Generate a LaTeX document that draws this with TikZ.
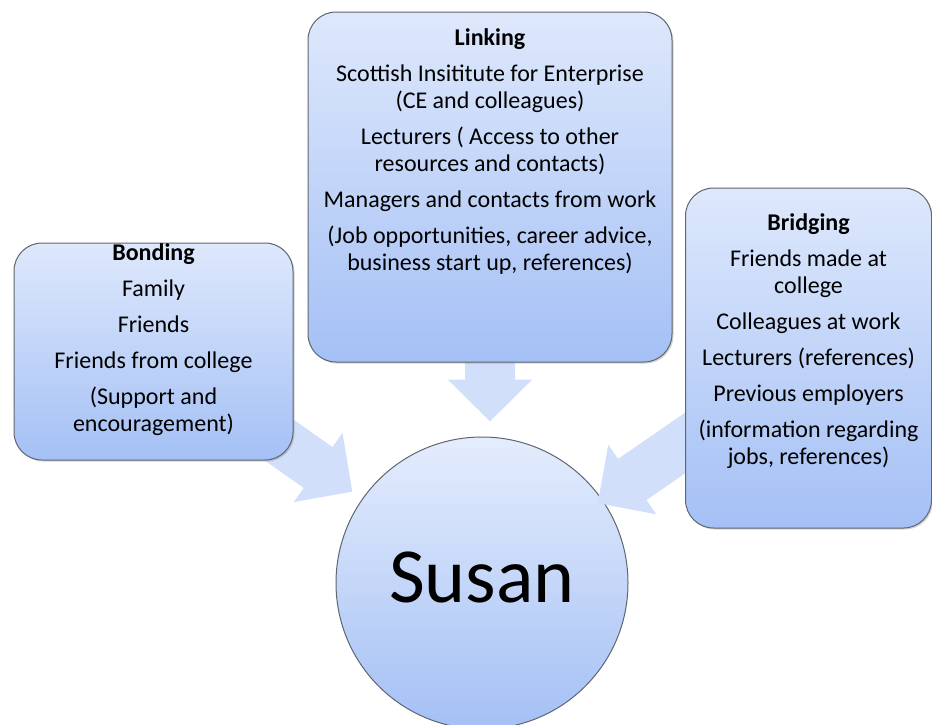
\documentclass[tikz,border=0pt]{standalone}
\usepackage{fontspec}
\setmainfont{Carlito}
\usetikzlibrary{arrows.meta,shadows,positioning}
\pgfdeclarelayer{back}
\pgfdeclarelayer{mid}
\pgfsetlayers{back,mid,main}
\definecolor{boxtop}{HTML}{DEE8FC}
\definecolor{boxbot}{HTML}{A4C0F5}
\definecolor{flowcol}{HTML}{D2DFFA}
\definecolor{edgecol}{HTML}{5F6670}

\begin{document}
\begin{tikzpicture}[x=1pt,y=-1pt]

\tikzset{group/.style = {draw=edgecol, line width=1pt, rounded corners=28pt, top color=boxtop, bottom color=boxbot, drop shadow={opacity=0.35,shadow xshift=1.5pt,shadow yshift=-1.5pt}, inner sep=0pt}}
\tikzset{items/.style = {align=center, inner sep=0pt, font=\fontsize{24}{27}\selectfont}}
\tikzset{flow/.style = {draw=flowcol, line width=50pt, -{Triangle[width=82pt,length=42pt]}}}

\useasboundingbox (0,0) rectangle (932,724);

% person
\begin{pgfonlayer}{back}
\node[circle, draw=edgecol, line width=1pt, top color=boxtop!80!white, bottom color=boxbot, minimum size=292pt, inner sep=0pt, text depth=12pt, font=\fontsize{78}{78}\selectfont] (Susan) at (482,583) {Susan};
\end{pgfonlayer}

% groups
\node[group, minimum width=279pt, minimum height=217pt] (Bonding) at (153.5,351.5) {};
\node[group, minimum width=364pt, minimum height=350pt] (Linking) at (490,187) {};
\node[group, minimum width=246pt, minimum height=340pt] (Bridging) at (808.5,358) {};

% texts
\node[items, below=1pt of Bonding.north] (bondtxt) {\textbf{Bonding}\\[9pt] Family\\[9pt] Friends\\[9pt] Friends from college\\[9pt] (Support and\\ encouragement)};
\node[items, below=17pt of Linking.north] (linktxt) {\textbf{Linking}\\[9pt] Scottish Insititute for Enterprise\\ (CE and colleagues)\\[9pt] Lecturers ( Access to other\\ resources and contacts)\\[9pt] Managers and contacts from work\\[9pt] (Job opportunities, career advice,\\ business start up, references)};
\node[items, below=26pt of Bridging.north] (bridgetxt) {\textbf{Bridging}\\[9pt] Friends made at\\ college\\[9pt] Colleagues at work\\[9pt] Lecturers (references)\\[9pt] Previous employers\\[9pt] (information regarding\\ jobs, references)};

% arrows
\begin{pgfonlayer}{mid}
\draw[flow, shorten >=15pt] (Linking.center) -- (Linking.center |- Susan.north);
\draw[flow, shorten >=12pt] (Bonding.center) -- (Susan);
\draw[flow, shorten >=-6pt] (Bridging.center) -- (Susan);
\end{pgfonlayer}

\end{tikzpicture}
\end{document}
